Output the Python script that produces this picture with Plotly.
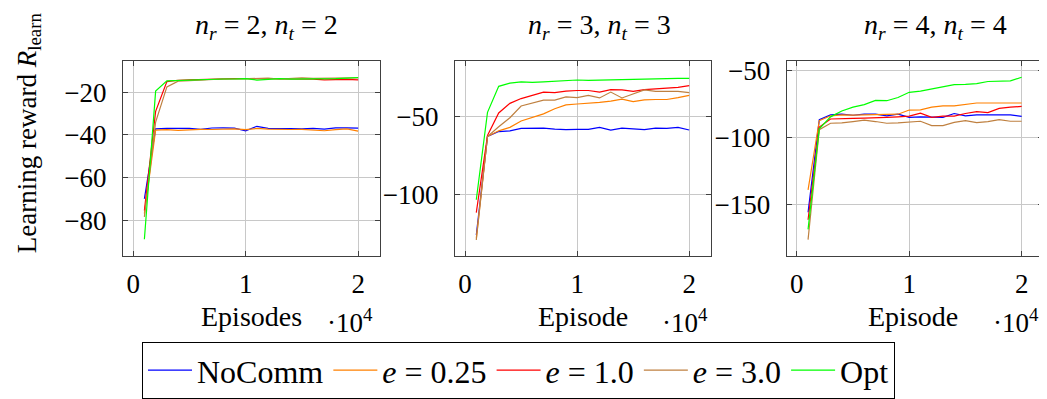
import plotly.graph_objects as go

# ---------------- data ----------------
episodes = [1000, 2000, 3000, 4000, 5000, 6000, 7000, 8000, 9000, 10000,
            11000, 12000, 13000, 14000, 15000, 16000, 17000, 18000, 19000, 20000]

series_names = ["NoComm", "<i>e</i> = 0.25", "<i>e</i> = 1.0", "<i>e</i> = 3.0", "Opt"]
series_colors = ["#0000ff", "#ff8000", "#ff0000", "#bf8040", "#00ff00"]

panel_titles = ["<i>n</i><sub><i>r</i></sub> = 2, <i>n</i><sub><i>t</i></sub> = 2",
                "<i>n</i><sub><i>r</i></sub> = 3, <i>n</i><sub><i>t</i></sub> = 3",
                "<i>n</i><sub><i>r</i></sub> = 4, <i>n</i><sub><i>t</i></sub> = 4"]
xlabels = ["Episodes", "Episode", "Episode"]
x_tickvals = [0, 10000, 20000]
x_ticktext = ["0", "1", "2"]
y_tickvals = [[-80, -60, -40, -20], [-100, -50], [-150, -100, -50]]

# panel 1 (n_r = 2, n_t = 2)
p1_nocomm = [-70, -37.2, -37.0, -36.9, -37.0, -37.4, -36.8, -36.7, -36.9, -38.1,
             -36.0, -37.0, -36.9, -37.1, -37.2, -37.0, -37.3, -36.7, -36.7, -36.9]
p1_e025 = [-77, -37.8, -37.6, -37.9, -37.7, -37.4, -37.5, -37.4, -37.2, -37.6,
           -37.0, -37.3, -37.5, -37.5, -37.4, -37.7, -38.1, -37.6, -37.2, -38.3]
p1_e1 = [-75.5, -29, -15, -14.4, -14.2, -14.0, -13.8, -13.5, -13.6, -13.6,
         -13.8, -13.7, -13.8, -13.8, -13.9, -13.9, -14.2, -14.0, -14.0, -14.2]
p1_e3 = [-78.5, -34, -17.5, -14.8, -14.6, -14.3, -14.0, -13.8, -13.8, -13.7,
         -13.6, -13.4, -13.8, -13.4, -13.3, -13.5, -13.5, -13.4, -13.5, -13.3]
p1_opt = [-89, -19.5, -14.7, -14.5, -14.3, -14.0, -14.0, -13.8, -13.8, -13.6,
          -14.3, -13.9, -13.6, -13.9, -13.9, -13.8, -13.7, -13.6, -13.4, -13.1]

# panel 2 (n_r = 3, n_t = 3)
p2_nocomm = [-126.3, -62.7, -59.5, -59.1, -57.5, -57.5, -57.3, -57.9, -58.3, -58.1,
             -58.1, -56.8, -58.5, -57.3, -57.7, -58.3, -57.3, -57.5, -56.8, -58.5]
p2_e025 = [-128.4, -62.7, -59.0, -56.8, -52.7, -50.6, -48.1, -44.8, -42.3, -41.7,
           -41.3, -40.7, -39.8, -38.6, -40.2, -39.0, -38.8, -38.8, -37.6, -36.1]
p2_e1 = [-111.8, -62.0, -47.5, -41.3, -38.2, -36.1, -34.0, -34.4, -33.4, -33.0,
         -33.0, -34.0, -32.4, -32.6, -33.6, -32.4, -32.0, -31.4, -31.0, -29.9]
p2_e3 = [-129.5, -62.7, -56.4, -50.6, -43.0, -41.3, -39.2, -39.2, -37.1, -37.6,
         -36.1, -37.8, -34.0, -37.8, -35.0, -32.6, -33.6, -33.6, -33.6, -34.4]
p2_opt = [-103.5, -47.1, -30.3, -28.2, -27.4, -27.8, -27.4, -27.0, -26.6, -26.2,
          -26.4, -26.2, -26.0, -26.0, -25.7, -25.5, -25.1, -24.9, -25.1, -25.1]

# panel 3 (n_r = 4, n_t = 4)
p3_nocomm = [-156.0, -86.6, -83.0, -82.5, -83.3, -82.5, -82.5, -83.7, -82.5, -84.9,
             -84.5, -84.5, -84.9, -82.0, -83.7, -83.0, -83.0, -82.7, -83.0, -84.2]
p3_e025 = [-139.2, -87.3, -83.7, -83.0, -83.2, -83.0, -83.0, -82.5, -82.5, -79.4,
           -79.2, -77.2, -76.3, -76.3, -75.3, -74.1, -74.1, -74.3, -74.1, -74.1]
p3_e1 = [-161.6, -92.2, -86.1, -86.1, -85.7, -85.4, -85.4, -84.9, -84.5, -84.0,
         -81.8, -84.9, -84.0, -84.0, -82.0, -80.6, -81.3, -78.2, -77.2, -76.7]
p3_e3 = [-176.5, -94.1, -89.3, -89.0, -88.0, -86.9, -88.0, -89.3, -89.0, -88.6,
         -87.8, -91.0, -91.0, -88.6, -87.3, -88.8, -88.0, -86.6, -87.8, -87.8]
p3_opt = [-168.8, -93.4, -84.5, -80.1, -77.2, -75.3, -72.2, -72.4, -70.0, -66.1,
          -65.2, -63.7, -62.0, -60.4, -60.1, -59.6, -58.0, -57.7, -57.5, -54.8]

panels = [
    [p1_nocomm, p1_e025, p1_e1, p1_e3, p1_opt],
    [p2_nocomm, p2_e025, p2_e1, p2_e3, p2_opt],
    [p3_nocomm, p3_e025, p3_e1, p3_e3, p3_opt],
]

# ---------------- layout geometry (window pixels) ----------------
WIN_W, WIN_H = 1047, 399
OFF = 8  # page body margin
W, H = WIN_W - OFF, WIN_H - OFF
FONT = "Liberation Serif"
x_dom_px = [(123, 379.5), (455, 710.5), (786.7, 1043)]
y_dom_px = (58, 261)
y_ranges = [[-97, -5.4], [-140, -14], [-189, -42.7]]
x_range = [-900, 21900]
title_cx = [266, 599, 935]
xlabel_cx = [251, 582.5, 913]
exp_cx = [350, 685, 1016]


def fx(p):
    return (p - OFF) / W


def fy(p):
    return 1 - (p - OFF) / H


fig = go.Figure()

for pi, panel in enumerate(panels):
    suffix = "" if pi == 0 else str(pi + 1)
    for si, ys in enumerate(panel):
        fig.add_trace(go.Scatter(
            x=episodes, y=ys, mode="lines",
            name=series_names[si],
            line=dict(color=series_colors[si], width=1.2),
            xaxis="x" + suffix, yaxis="y" + suffix,
            showlegend=(pi == 0),
        ))

axis_common = dict(
    showline=True, linecolor="#404040", linewidth=1, mirror="allticks",
    ticks="inside", ticklen=5, tickcolor="#404040", tickwidth=1,
    showgrid=True, gridcolor="#c8c8c8", gridwidth=1, zeroline=False,
    tickfont=dict(family=FONT, size=27, color="black"),
)

layout = dict(
    width=W, height=H, autosize=False,
    margin=dict(l=0, r=0, t=0, b=0),
    paper_bgcolor="white", plot_bgcolor="white",
    font=dict(family=FONT, size=27, color="black"),
    showlegend=True,
    legend=dict(
        orientation="h", x=fx(142), y=fy(350), xanchor="left", yanchor="top",
        bordercolor="black", borderwidth=1, bgcolor="white",
        font=dict(family=FONT, size=32, color="black"),
        itemwidth=44, tracegroupgap=0,
    ),
)

for pi in range(3):
    suffix = "" if pi == 0 else str(pi + 1)
    layout["xaxis" + suffix] = dict(
        axis_common, domain=[fx(x_dom_px[pi][0]), fx(x_dom_px[pi][1])],
        range=x_range, tickvals=x_tickvals, ticktext=x_ticktext,
        anchor="y" + suffix, ticklabelstandoff=3,
    )
    layout["yaxis" + suffix] = dict(
        axis_common, domain=[fy(y_dom_px[1]), fy(y_dom_px[0])],
        range=y_ranges[pi], tickvals=y_tickvals[pi],
        anchor="x" + suffix, ticklabelstandoff=10,
    )

fig.update_layout(**layout)

annotations = []
for pi in range(3):
    annotations.append(dict(
        text=panel_titles[pi], x=fx(title_cx[pi]), y=fy(22), xref="paper", yref="paper",
        xanchor="center", yanchor="middle", showarrow=False,
        font=dict(family=FONT, size=28, color="black"),
    ))
    annotations.append(dict(
        text=xlabels[pi], x=fx(xlabel_cx[pi]), y=fy(324), xref="paper", yref="paper",
        xanchor="center", yanchor="middle", showarrow=False,
        font=dict(family=FONT, size=28, color="black"),
    ))
    annotations.append(dict(
        text="·10<sup>4</sup>", x=fx(exp_cx[pi]), y=fy(328), xref="paper", yref="paper",
        xanchor="center", yanchor="middle", showarrow=False,
        font=dict(family=FONT, size=27, color="black"),
    ))
annotations.append(dict(
    text="Learning reward <i>R</i><sub>learn</sub>", x=fx(29), y=fy(133),
    xref="paper", yref="paper", xanchor="center", yanchor="middle",
    textangle=-90, showarrow=False,
    font=dict(family=FONT, size=27, color="black"),
))
fig.update_layout(annotations=annotations)

fig.write_html("out.html")
